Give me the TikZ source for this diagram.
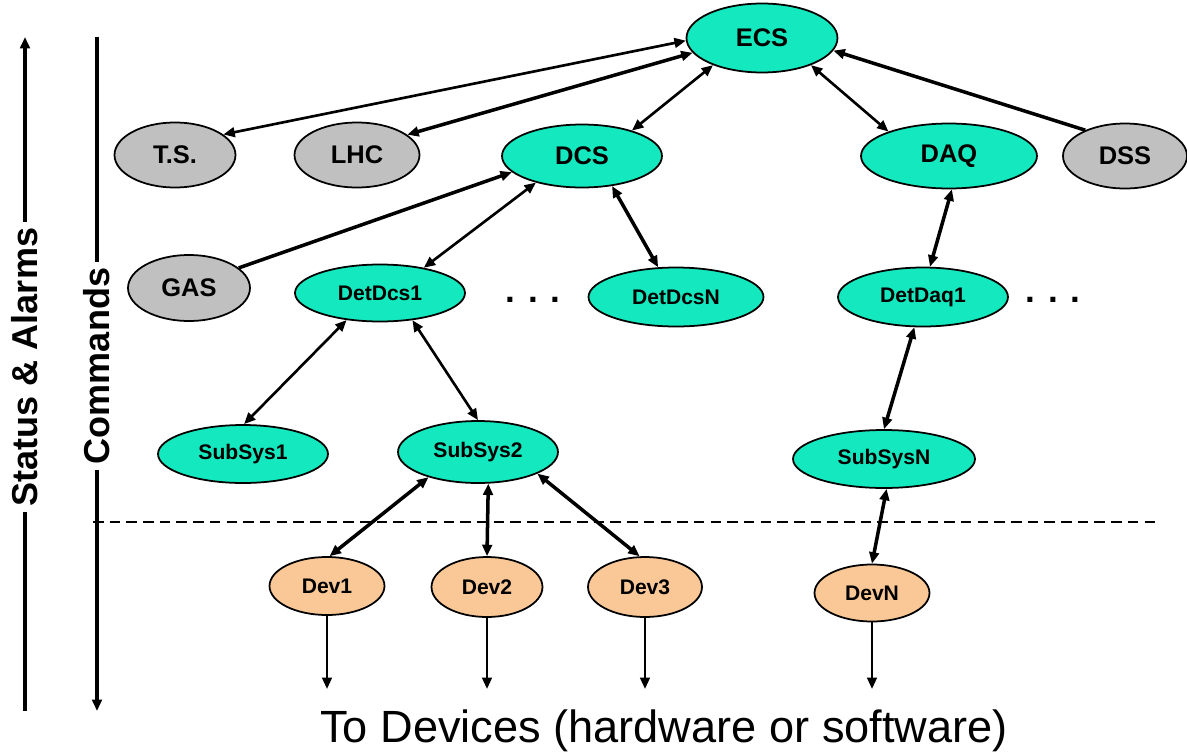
\documentclass[tikz,border=0pt]{standalone}
\usepackage{fontspec}
\setmainfont{Liberation Sans}
\usetikzlibrary{shapes.geometric,arrows.meta}

\definecolor{ctrlcol}{RGB}{20,232,190}
\definecolor{extcol}{RGB}{192,192,192}
\definecolor{devcol}{RGB}{250,200,150}

\tikzset{
  unit/.style={ellipse, draw, line width=1pt, inner sep=0pt,
    font=\bfseries\fontsize{14.5}{16}\selectfont},
  small/.style={font=\bfseries\fontsize{12}{14}\selectfont},
  ctrl/.style={unit, fill=ctrlcol},
  ext/.style={unit, fill=extcol},
  dev/.style={unit, small, fill=devcol},
  link/.style={{Triangle[length=6.5pt,width=5.5pt]}-{Triangle[length=6.5pt,width=5.5pt]}, line width=1.5pt},
  heavy/.style={line width=2pt},
  tolink/.style={-{Triangle[length=6.5pt,width=5.5pt]}, line width=1.8pt},
  side/.style={rotate=90, font=\bfseries\fontsize{20.5}{22}\selectfont},
}

\begin{document}
\begin{tikzpicture}[x=0.02cm,y=-0.02cm]
\useasboundingbox (0,0) rectangle (1187,754);

% experiment control and its neighbours
\node[ctrl,minimum width=3.02cm,minimum height=1.38cm] (ecs) at (762,38) {ECS};
\node[ext,minimum width=2.42cm,minimum height=1.3cm] (ts) at (175,155) {T.S.};
\node[ext,minimum width=2.5cm,minimum height=1.3cm] (lhc) at (357,155) {LHC};
\node[ctrl,minimum width=3.2cm,minimum height=1.26cm] (dcs) at (582,156) {DCS};
\node[ctrl,minimum width=3.52cm,minimum height=1.3cm] (daq) at (949,156) {DAQ};
\node[ext,minimum width=2.48cm,minimum height=1.3cm] (dss) at (1125,156) {DSS};
\node[ext,minimum width=2.44cm,minimum height=1.32cm] (gas) at (189,288) {GAS};

% detector level
\node[ctrl,small,minimum width=3.4cm,minimum height=1.14cm] (dd1) at (380,293) {DetDcs1};
\node[ctrl,small,minimum width=3.5cm,minimum height=1.18cm] (ddn) at (676,297) {DetDcsN};
\node[ctrl,small,minimum width=3.4cm,minimum height=1.18cm] (ddq) at (923,297) {DetDaq1};
\node[font=\bfseries\fontsize{20}{20}\selectfont] (dots1) at (533,300) {. . .};
\node[font=\bfseries\fontsize{20}{20}\selectfont] (dots2) at (1053,300) {. . .};

% sub-systems
\node[ctrl,small,minimum width=3.4cm,minimum height=1.16cm] (ss1) at (243,454) {SubSys1};
\node[ctrl,small,minimum width=3.2cm,minimum height=1.24cm] (ss2) at (478,452) {SubSys2};
\node[ctrl,small,minimum width=3.64cm,minimum height=1.16cm] (ssn) at (884,459) {SubSysN};

% devices
\node[dev,minimum width=2.3cm,minimum height=1.16cm] (dev1) at (327,586) {Dev1};
\node[dev,minimum width=2.22cm,minimum height=1.2cm] (dev2) at (487,587) {Dev2};
\node[dev,minimum width=2.28cm,minimum height=1.2cm] (dev3) at (645,587) {Dev3};
\node[dev,minimum width=2.3cm,minimum height=1.14cm] (devn) at (872,593) {DevN};

\node[font=\fontsize{25.7}{28}\selectfont] (todev) at (664,731) {To Devices (hardware or software)};

% side labels
\node[side] (status) at (25,367) {Status \& Alarms};
\node[side] (cmds) at (97,366) {Commands};
\coordinate (top) at (0,37);
\coordinate (bot) at (0,711);
\coordinate (out) at (0,689);
\coordinate (sepL) at (93,522);
\coordinate (sepR) at (1157,522);

\draw[tolink] (status.east) -- (status.east |- top);
\draw[line width=1.8pt] (status.west) -- (status.west |- bot);
\draw[line width=1.8pt] (cmds.east) -- (cmds.east |- top);
\draw[tolink] (cmds.west) -- (cmds.west |- bot);

\draw[dashed, dash pattern=on 6pt off 3.5pt, line width=1.5pt] (sepL) -- (sepR);

% links
\draw[link] (ecs.182) -- (ts.23);
\draw[link,heavy] (ecs.192) -- (lhc.22);
\draw[link] (ecs.209) -- (dcs.27);
\draw[link] (ecs.331) -- (daq.158);
\draw[-{Triangle[length=6.5pt,width=5.5pt]},heavy] (dss.147) -- (ecs.350);
\draw[-{Triangle[length=6.5pt,width=5.5pt]},heavy] (gas.22) -- (dcs.193);
\draw[link] (dcs.210) -- (dd1.30);
\draw[link,heavy] (dcs.315) -- (ddn.121);
\draw[link,heavy] (daq.275) -- (ddq.77);
\draw[link] (dd1.219) -- (ss1.88);
\draw[link] (dd1.320) -- (ss2.90);
\draw[link,heavy] (ddq.254) -- (ssn.90);
\draw[link,heavy] (ss2.207) -- (dev1.85);
\draw[link,heavy] (ss2.288) -- (dev2.90);
\draw[link,heavy] (ss2.340) -- (dev3.100);
\draw[link,heavy] (ssn.275) -- (devn.90);

\foreach \d in {dev1,dev2,dev3,devn}
\draw[-{Triangle[length=6.5pt,width=5.5pt]}, line width=1.4pt] (\d.south) -- (\d.south |- out);

\end{tikzpicture}
\end{document}
